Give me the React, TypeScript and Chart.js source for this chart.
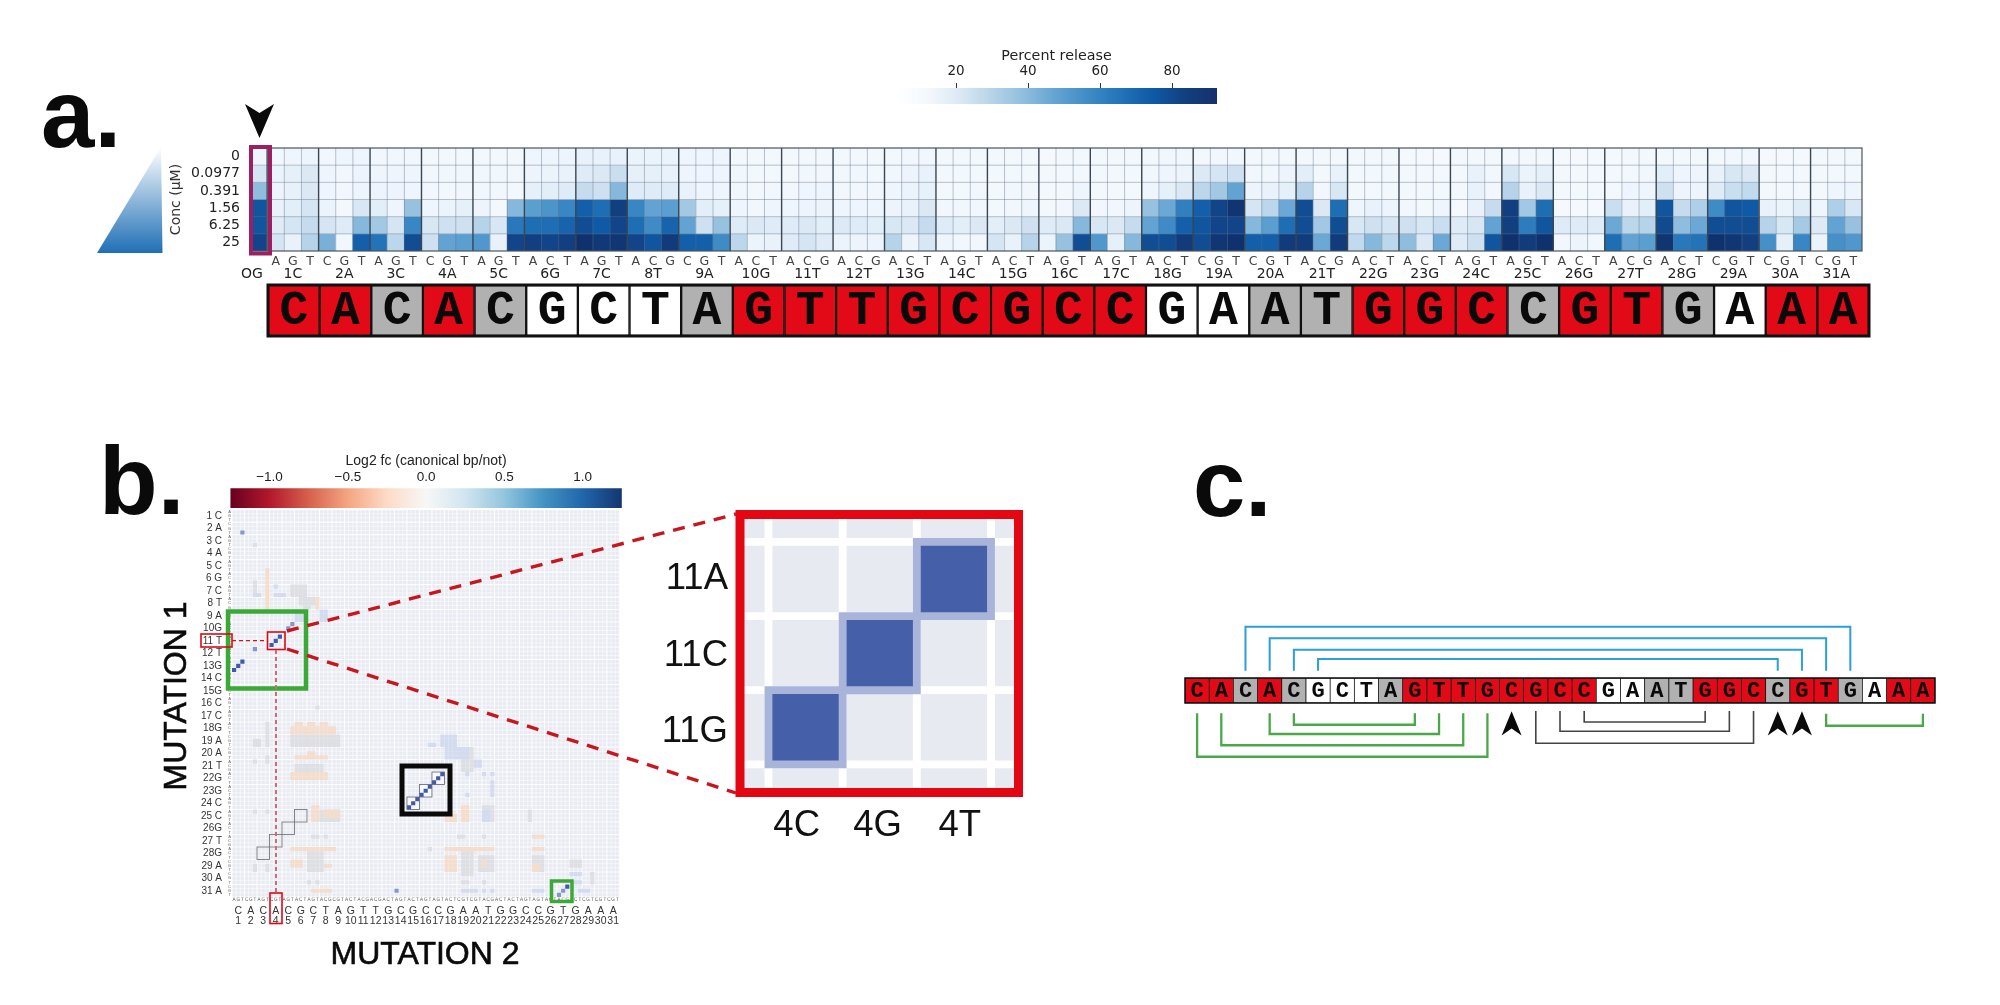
import React, { useEffect, useRef } from "react";
import { Chart, registerables } from "chart.js";
Chart.register(...registerables);

/* ---------- panel a data ---------- */
const concLabels = ["0", "0.0977", "0.391", "1.56", "6.25", "25"];
const sequence = "CACACGCTAGTTGCGCCGAATGGCCGTGAAA".split("");
const pairState = ["r","r","g","r","g","w","w","w","g","r","r","r","r","r","r","r","r","w","w","g","g","r","r","r","g","r","r","g","w","r","r"];
const groupNames = ["1C","2A","3C","4A","5C","6G","7C","8T","9A","10G","11T","12T","13G","14C","15G","16C","17C","18G","19A","20A","21T","22G","23G","24C","25C","26G","27T","28G","29A","30A","31A"];
const groupLetters = ["AGT","CGT","AGT","CGT","AGT","ACT","AGT","ACG","CGT","ACT","ACG","ACG","ACT","AGT","ACT","AGT","AGT","ACT","CGT","CGT","ACG","ACT","ACT","AGT","AGT","ACT","ACG","ACT","CGT","CGT","CGT"];
const release0 = [5, 4,5,6, 4,5,5, 4,4,4, 3,3,3, 3,3,3, 5,5,6, 8,8,8, 7,7,7, 5,5,5, 3,3,3, 3,3,3, 3,3,3, 3,4,4, 3,3,3, 3,3,3, 2,3,3, 3,3,3, 3,4,4, 3,4,4, 3,3,3, 3,3,3, 3,3,3, 2,2,2, 3,3,3, 3,3,3, 2,2,2, 2,3,3, 3,3,3, 3,4,4, 2,2,2, 3,3,3];
const release1 = [20, 7,10,16, 5,4,6, 5,5,5, 4,4,4, 4,4,4, 6,7,8, 14,16,24, 10,10,8, 5,5,5, 4,3,3, 3,4,4, 4,4,3, 4,6,8, 3,3,3, 3,3,3, 3,3,3, 3,3,3, 4,5,6, 15,20,22, 4,4,6, 12,3,8, 3,3,3, 3,3,3, 3,8,4, 18,7,10, 3,3,3, 3,3,4, 12,5,5, 8,18,16, 3,3,3, 3,3,3];
const release2 = [40, 6,9,16, 5,4,6, 6,6,5, 4,3,4, 4,4,3, 10,12,14, 25,22,42, 14,14,14, 8,5,5, 4,3,4, 4,5,5, 4,4,4, 5,7,9, 3,3,4, 3,4,4, 3,3,5, 3,3,3, 5,10,16, 28,35,50, 6,8,10, 30,4,18, 3,3,3, 3,3,3, 3,8,4, 30,8,16, 3,3,3, 3,5,5, 22,6,6, 14,24,26, 3,3,3, 3,5,5];
const release3 = [82, 8,12,20, 7,3,18, 12,5,38, 5,7,10, 6,3,42, 52,56,62, 78,72,90, 62,50,52, 35,12,10, 5,4,5, 5,6,6, 5,5,5, 6,8,16, 4,4,4, 3,4,5, 3,4,16, 4,4,6, 38,48,65, 78,88,95, 20,28,48, 85,16,72, 5,8,6, 4,3,5, 2,8,25, 90,35,72, 2,2,2, 24,8,12, 82,25,32, 60,82,80, 8,7,14, 5,32,18];
const release4 = [82, 14,20,25, 20,14,42, 35,20,62, 18,22,22, 30,18,68, 72,72,76, 85,80,88, 72,60,76, 50,22,38, 14,16,14, 14,16,12, 15,14,12, 18,16,25, 14,12,16, 12,16,22, 14,16,42, 18,16,25, 50,60,78, 82,88,88, 42,52,72, 85,35,85, 18,22,20, 22,18,24, 14,18,50, 90,66,82, 14,14,14, 48,28,30, 86,40,48, 85,85,85, 30,18,34, 15,50,38];
const release5 = [88, 20,8,30, 45,4,78, 70,28,85, 22,50,52, 55,8,88, 90,88,90, 96,93,94, 88,82,92, 78,78,60, 28,7,8, 14,20,14, 7,6,6, 30,6,18, 5,4,4, 20,8,30, 7,38,85, 55,10,42, 85,85,92, 85,94,96, 78,78,92, 92,48,92, 26,42,28, 40,16,48, 14,22,82, 96,92,96, 4,6,4, 72,50,52, 95,68,70, 96,94,90, 58,10,62, 7,58,55];
const releaseRows = [release0, release1, release2, release3, release4, release5];
const percentTicks = [20, 40, 60, 80];
const percentRange = [3.3, 92.5];

/* ---------- panel b data: [rowFrom, rowTo, colFrom, colTo] ---------- */
const positionLabels = ["1 C","2 A","3 C","4 A","5 C","6 G","7 C","8 T","9 A","10G","11 T","12 T","13G","14 C","15G","16 C","17 C","18G","19 A","20 A","21 T","22G","23G","24 C","25 C","26G","27 T","28G","29 A","30 A","31 A"];
const positionNumbers = sequence.map((_, i) => String(i + 1));
const log2Ticks = [-1, -0.5, 0, 0.5, 1];
const log2Range = [-1.25, 1.25];
const grayPatches = [[18,20,14,17],[21,22,16,19],[23,23,17,18],[17,19,5,5],[8,8,5,5],[54,56,14,25],[51,56,8,8],[55,56,5,6],[61,62,15,21],[59,60,8,8],[60,60,5,5],[57,62,55,57],[72,74,21,25],[71,74,60,62],[72,74,71,71],[72,72,5,5],[72,72,8,8],[82,86,18,21],[81,87,55,57],[83,86,59,62],[83,86,72,74],[85,86,5,5],[85,86,8,8],[84,85,81,83],[87,88,86,86],[89,89,86,86],[89,89,55,56],[89,89,60,60],[89,89,18,18],[89,89,20,20],[78,78,19,20],[78,78,22,22],[78,78,54,55],[78,78,60,60],[47,47,20,20],[81,81,47,47]];
const orangePatches = [[14,23,8,8],[21,23,20,20],[51,51,15,16],[51,51,18,19],[51,51,21,22],[52,53,14,24],[59,59,15,22],[58,58,18,19],[63,64,14,22],[71,74,19,20],[71,74,55,56],[73,74,51,53],[72,73,22,25],[81,81,14,24],[84,85,14,16],[85,85,22,23],[81,81,51,62],[83,86,51,53],[84,85,60,60],[81,81,72,74],[85,86,72,73],[78,78,72,74],[91,91,19,23]];
const paleBluePatches = [[20,20,5,6],[18,18,10,10],[20,20,10,12],[24,26,15,17],[24,26,21,22],[54,56,50,53],[56,56,47,48],[57,59,51,56],[60,61,58,59],[63,63,60,60],[63,63,62,62],[65,68,62,62],[63,63,56,56],[68,68,56,56],[72,74,60,61],[87,87,81,83],[89,89,82,83],[91,91,83,85],[91,91,72,74],[91,91,55,58],[91,91,60,60],[91,91,62,62]];
const mediumCells = [[5,2],[33,5],[27,14],[28,13],[91,39],[91,79],[92,78]];
const strongCells = [[30,11],[31,10],[32,9],[36,2],[37,1],[38,0],[71,42],[70,43],[69,44],[68,45],[67,46],[66,47],[65,48],[64,49],[63,50],[90,80]];
const darkOutlineBoxes = [[42,69],[45,66],[48,63]];
const grayOutlineBoxes = [[6,81],[9,78],[12,75],[15,72]];

/* ---------- inset data ---------- */
const insetRows = ["11A", "11C", "11G"];
const insetCols = ["4C", "4G", "4T"];
const insetRowTicks = [0, 0.035, 0.07].map((d, i) => i + d);
const insetColTicks = [-0.12, -0.03, 0.08].map((d, i) => i + d);
const insetStrong = [[0,2],[1,1],[2,0]];
const insetFringe = [-1, 0, 1, 2, 3];

/* ---------- panel c data: [leftIndex, rightIndex, level] ---------- */
const bluePairs = [[2,27,3.05],[3,26,2.59],[4,25,2.13],[5,24,1.76]];
const greenPairs = [[4,9,-0.87],[3,10,-1.24],[1,11,-1.69],[0,12,-2.15],[26,30,-0.91]];
const blackPairs = [[16,21,-0.76],[15,22,-1.13],[14,23,-1.61]];
const arrowPositions = [13, 24, 25];

/* ---------- styles ---------- */
const blueStopValues = [0, 8, 20, 30, 40, 50, 60, 70, 80, 90, 100];
const blueStopColors = ["#f9fbfe","#e9f2fa","#d5e5f3","#b6d3e9","#8fbddd","#62a3d3","#3e8bc6","#2273b8","#0f5aa6","#123f80","#0d2a62"];
const barStops = ["#ffffff","#f3f8fc","#dbe8f4","#b6d3e9","#8fbddd","#62a3d3","#3e8bc6","#2273b8","#0f5aa6","#123f80","#16306c"];
const rdbuColors = ["#67001f","#b2182b","#d6604d","#f4a582","#fddbc7","#f7f7f7","#d1e5f0","#92c5de","#4393c3","#2166ac","#14366f"];
const stateColors: any = { r: "#e30a17", g: "#b1b1b1", w: "#ffffff" };
const SANS = "'Liberation Sans', Arial, sans-serif";
const DEJA = "'DejaVu Sans', sans-serif";
const MONO = "'Liberation Mono', monospace";

const hex = (h: string) => [1, 3, 5].map((i) => parseInt(h.slice(i, i + 2), 16));
function blueAt(v: number) {
  let i = 0;
  while (i < blueStopValues.length - 2 && v > blueStopValues[i + 1]) i++;
  const t = Math.min(1, (v - blueStopValues[i]) / (blueStopValues[i + 1] - blueStopValues[i]));
  const a = hex(blueStopColors[i]), b = hex(blueStopColors[i + 1]);
  return `rgb(${a.map((c, k) => Math.round(c + (b[k] - c) * t)).join(",")})`;
}

const base = (extra: any = {}) => ({
  responsive: false,
  animation: false,
  devicePixelRatio: 1,
  events: [],
  ...extra,
  layout: { autoPadding: false, ...(extra.layout || {}) },
  plugins: { legend: { display: false }, tooltip: { enabled: false }, ...(extra.plugins || {}) },
});
const noGrid = { display: false, drawTicks: false };
const noBorder = { display: false };
const fixH = (h: number) => (s: any) => { s.height = h; s.paddingLeft = 0; s.paddingRight = 0; s.paddingTop = 0; s.paddingBottom = 0; };
const fixW = (w: number) => (s: any) => { s.width = w; s.paddingLeft = 0; s.paddingRight = 0; s.paddingTop = 0; s.paddingBottom = 0; };

/* ---------- heatmap a ---------- */
function heatmapA() {
  const xLetters = [""].concat(...groupLetters.map((g) => g.split("")));
  const xGroups = ["OG   "].concat(...groupNames.map((g) => ["", g, ""]));
  return {
    type: "bar",
    data: {
      labels: xLetters,
      datasets: releaseRows.map((row, r) => ({
        data: row.map(() => [r, r + 1]),
        backgroundColor: row.map(blueAt),
        borderWidth: 0,
        grouped: false,
        categoryPercentage: 1,
        barPercentage: 1,
      })),
    },
    options: base({
      layout: { padding: { top: 8, right: 10 } },
      scales: {
        x: { type: "category", labels: xLetters, offset: true, grid: noGrid, border: noBorder, weight: 0, afterFit: fixH(15),
          ticks: { autoSkip: false, maxRotation: 0, minRotation: 0, padding: 3, color: "#444", font: { family: DEJA, size: 12.5 } } },
        xGroup: { type: "category", axis: "x", position: "bottom", labels: xGroups, offset: true, grid: noGrid, border: noBorder, weight: 1, afterFit: fixH(24),
          ticks: { autoSkip: false, maxRotation: 0, minRotation: 0, padding: 0, color: "#222", font: { family: DEJA, size: 14 } } },
        y: { type: "linear", min: 0, max: 6, reverse: true, display: false },
        rowAxis: { type: "category", axis: "y", position: "left", labels: concLabels, offset: true, grid: noGrid, border: noBorder, afterFit: fixW(100),
          title: { display: true, text: "Conc (μM)", color: "#333", padding: { top: 18, bottom: 0 }, font: { family: DEJA, size: 14 } },
          ticks: { autoSkip: false, padding: 10, color: "#222", font: { family: DEJA, size: 14 } } },
      },
    }),
    plugins: [{
      id: "gridA",
      afterDatasetsDraw(chart: any) {
        const { ctx, chartArea: a } = chart;
        const cw = (a.right - a.left) / 94, ch = (a.bottom - a.top) / 6;
        ctx.save();
        ctx.lineWidth = 1;
        ctx.strokeStyle = "rgba(95,115,135,0.42)";
        for (let c = 1; c < 94; c++) {
          if ((c - 1) % 3 === 0) continue;
          ctx.beginPath(); ctx.moveTo(a.left + c * cw, a.top); ctx.lineTo(a.left + c * cw, a.bottom); ctx.stroke();
        }
        for (let r = 1; r < 6; r++) {
          ctx.beginPath(); ctx.moveTo(a.left, a.top + r * ch); ctx.lineTo(a.right, a.top + r * ch); ctx.stroke();
        }
        ctx.strokeStyle = "#3b4652";
        ctx.lineWidth = 1.4;
        for (let c = 1; c < 94; c += 3) {
          ctx.beginPath(); ctx.moveTo(a.left + c * cw, a.top); ctx.lineTo(a.left + c * cw, a.bottom); ctx.stroke();
        }
        ctx.strokeStyle = "#4a5560";
        ctx.lineWidth = 1.2;
        ctx.strokeRect(a.left, a.top, a.right - a.left, a.bottom - a.top);
        ctx.restore();
      },
    }],
  };
}

/* ---------- colour bars ---------- */
function colorBar(range: number[], ticks: number[], colors: string[], title: string, fmt: (v: number) => string, family: string, fontSize: number, titleSize: number, axisH: number, pad: any, tickLen: number) {
  return {
    type: "bar",
    data: {
      labels: ["scale"],
      datasets: [{
        data: [range],
        borderWidth: 0,
        categoryPercentage: 1,
        barPercentage: 1,
        backgroundColor: (c: any) => {
          const area = c.chart.chartArea;
          if (!area) return colors[0];
          const g = c.chart.ctx.createLinearGradient(area.left, 0, area.right, 0);
          colors.forEach((col, i) => g.addColorStop(i / (colors.length - 1), col));
          return g;
        },
      }],
    },
    options: base({
      indexAxis: "y",
      layout: { padding: pad },
      scales: {
        y: { type: "category", display: false },
        x: { type: "linear", position: "top", min: range[0], max: range[1], border: noBorder, afterFit: fixH(axisH),
          afterBuildTicks: (s: any) => { s.ticks = ticks.map((value) => ({ value })); },
          grid: { drawOnChartArea: false, drawTicks: tickLen > 0, tickLength: tickLen, color: "#333" },
          title: { display: true, text: title, color: "#222", padding: { top: 0, bottom: 2 }, font: { family, size: titleSize } },
          ticks: { padding: 3, maxRotation: 0, color: "#222", font: { family, size: fontSize }, callback: (v: number) => fmt(v) } },
      },
    }),
  };
}

/* ---------- strip of bases and panel c ---------- */
function strip(fontSize: number, border: number, frame: number, yRange: number[], pad: any, extra: any[], arrows: number[]) {
  return {
    type: "bar",
    data: {
      datasets: [{
        type: "bar",
        data: sequence.map((_, i) => ({ x: i, y: [0, 1] })),
        backgroundColor: pairState.map((s) => stateColors[s]),
        borderColor: "#111",
        borderWidth: border,
        borderSkipped: false,
        categoryPercentage: 1,
        barPercentage: 1,
        clip: false,
      }, ...extra],
    },
    options: base({
      layout: { padding: pad },
      scales: {
        x: { type: "linear", min: -0.5, max: 30.5, offset: false, display: false },
        y: { type: "linear", min: yRange[0], max: yRange[1], display: false },
      },
    }),
    plugins: [{
      id: "letters",
      afterDatasetsDraw(chart: any) {
        const { ctx } = chart;
        const bars = chart.getDatasetMeta(0).data;
        ctx.save();
        ctx.font = `bold ${fontSize}px ${MONO}`;
        ctx.textAlign = "center";
        ctx.textBaseline = "middle";
        ctx.fillStyle = "#0a0a0a";
        bars.forEach((b: any, i: number) => ctx.fillText(sequence[i], b.x, (b.y + b.base) / 2 + 1));
        if (frame > 0) {
          const l = bars[0].x - bars[0].width / 2, r = bars[30].x + bars[30].width / 2;
          ctx.strokeStyle = "#111";
          ctx.lineWidth = frame;
          ctx.strokeRect(l, bars[0].y, r - l, bars[0].base - bars[0].y);
        }
        const xs = chart.scales.x, ys = chart.scales.y;
        arrows.forEach((p) => {
          const x = xs.getPixelForValue(p), top = ys.getPixelForValue(-0.33), bot = ys.getPixelForValue(-1.3), notch = ys.getPixelForValue(-1.02);
          ctx.fillStyle = "#0a0a0a";
          ctx.beginPath();
          ctx.moveTo(x, top); ctx.lineTo(x + 10, bot); ctx.lineTo(x, notch); ctx.lineTo(x - 10, bot); ctx.closePath(); ctx.fill();
        });
        ctx.restore();
      },
    }],
  };
}

function bracket(pair: number[], start: number, color: string, width: number) {
  return {
    type: "line",
    data: [{ x: pair[0], y: start }, { x: pair[0], y: pair[2] }, { x: pair[1], y: pair[2] }, { x: pair[1], y: start }],
    borderColor: color,
    borderWidth: width,
    pointRadius: 0,
    fill: false,
    tension: 0,
    clip: false,
  };
}

/* ---------- heatmap b ---------- */
const expand = (patches: number[][]) => {
  const out: any[] = [];
  patches.forEach(([r0, r1, c0, c1]) => {
    for (let r = r0; r <= r1; r++) for (let c = c0; c <= c1; c++) out.push({ x: c, y: r });
  });
  return out;
};
const cellSet = (data: any[], color: string, radius: number) => ({
  data, backgroundColor: color, borderWidth: 0, pointRadius: radius, pointStyle: "rect", pointHoverRadius: radius,
});
function heatmapB() {
  const tiny = [].concat(...groupLetters.map((g) => g.split("") as any)) as string[];
  const r = 2.95;
  return {
    type: "scatter",
    data: {
      datasets: [
        cellSet(strongCells.map(([y, x]) => ({ x, y })), "#3f5aa8", r),
        cellSet(mediumCells.map(([y, x]) => ({ x, y })), "#8497cc", r),
        cellSet(expand(orangePatches), "#f4ddcd", r),
        cellSet(expand(paleBluePatches), "#d3dbef", r),
        cellSet(expand(grayPatches), "#dedfe3", r),
      ],
    },
    options: base({
      layout: { padding: { top: 9.6, right: 10.6 } },
      scales: {
        x: { type: "linear", min: -0.5, max: 92.5, display: false },
        y: { type: "linear", min: -0.5, max: 92.5, reverse: true, display: false },
        yTiny: { type: "category", axis: "y", position: "left", labels: tiny, offset: true, grid: noGrid, border: noBorder, weight: 0, afterFit: fixW(6),
          ticks: { autoSkip: false, padding: 1, color: "#666", font: { family: SANS, size: 4.2 } } },
        yPos: { type: "category", axis: "y", position: "left", labels: positionLabels, offset: true, grid: noGrid, border: noBorder, weight: 1, afterFit: fixW(36),
          ticks: { autoSkip: false, padding: 4, color: "#333", font: { family: SANS, size: 10 } } },
        xTiny: { type: "category", axis: "x", position: "bottom", labels: tiny, offset: true, grid: noGrid, border: noBorder, weight: 0, afterFit: fixH(8),
          ticks: { autoSkip: false, maxRotation: 0, minRotation: 0, padding: 0, color: "#555", font: { family: SANS, size: 4.6 } } },
        xBase: { type: "category", axis: "x", position: "bottom", labels: sequence, offset: true, grid: noGrid, border: noBorder, weight: 1, afterFit: fixH(10),
          ticks: { autoSkip: false, maxRotation: 0, minRotation: 0, padding: 0, color: "#333", font: { family: SANS, size: 10.5 } } },
        xNum: { type: "category", axis: "x", position: "bottom", labels: positionNumbers, offset: true, grid: noGrid, border: noBorder, weight: 2, afterFit: fixH(25),
          ticks: { autoSkip: false, maxRotation: 0, minRotation: 0, padding: 0, color: "#333", font: { family: SANS, size: 10.5 } } },
      },
    }),
    plugins: [{
      id: "baseB",
      beforeDatasetsDraw(chart: any) {
        const { ctx, chartArea: a, scales } = chart;
        const cell = (a.right - a.left) / 93, cellH = (a.bottom - a.top) / 93;
        ctx.save();
        ctx.fillStyle = "#e9ebf3";
        ctx.fillRect(a.left, a.top, a.right - a.left, a.bottom - a.top);
        for (let i = 0; i <= 93; i++) {
          ctx.strokeStyle = "rgba(255,255,255,0.9)";
          ctx.lineWidth = i % 3 === 0 ? 1.1 : 0.6;
          ctx.beginPath(); ctx.moveTo(a.left + i * cell, a.top); ctx.lineTo(a.left + i * cell, a.bottom); ctx.stroke();
          ctx.beginPath(); ctx.moveTo(a.left, a.top + i * cellH); ctx.lineTo(a.right, a.top + i * cellH); ctx.stroke();
        }
        darkOutlineBoxes.forEach(([c, r]) => {
          const x0 = scales.x.getPixelForValue(c - 0.5), x1 = scales.x.getPixelForValue(c + 2.5);
          const y0 = scales.y.getPixelForValue(r - 0.5), y1 = scales.y.getPixelForValue(r + 2.5);
          ctx.fillStyle = "rgba(255,255,255,0.6)";
          ctx.fillRect(x0, y0, x1 - x0, y1 - y0);
        });
        ctx.restore();
      },
      afterDatasetsDraw(chart: any) {
        const { ctx, scales } = chart;
        const box = (col: number, row: number, color: string) => {
          const x0 = scales.x.getPixelForValue(col - 0.5), x1 = scales.x.getPixelForValue(col + 2.5);
          const y0 = scales.y.getPixelForValue(row - 0.5), y1 = scales.y.getPixelForValue(row + 2.5);
          ctx.strokeStyle = color;
          ctx.lineWidth = 0.9;
          ctx.strokeRect(x0, y0, x1 - x0, y1 - y0);
        };
        ctx.save();
        darkOutlineBoxes.forEach(([c, r]) => box(c, r, "#6a6f82"));
        grayOutlineBoxes.forEach(([c, r]) => box(c, r, "#777"));
        ctx.restore();
      },
    }],
  };
}

/* ---------- inset ---------- */
function inset() {
  const fringe: any[] = [];
  insetFringe.forEach((y) => insetFringe.forEach((x) => fringe.push({ x, y })));
  const strong = insetStrong.map(([y, x]) => ({ x, y }));
  const cellRadius = 66.3 / Math.SQRT2;
  const haloRadius = 82 / Math.SQRT2;
  return {
    type: "scatter",
    data: {
      datasets: [
        cellSet(strong, "#465fa9", cellRadius),
        cellSet(strong, "#a9b4da", haloRadius),
        cellSet(fringe, "#e8eaf2", cellRadius),
      ],
    },
    options: base({
      layout: { padding: { top: 19, right: 36 } },
      scales: {
        x: { type: "linear", min: -0.83, max: 2.81, grid: noGrid, border: noBorder, afterFit: fixH(62),
          afterBuildTicks: (t: any) => { t.ticks = insetColTicks.map((value) => ({ value })); },
          ticks: { padding: 16, maxRotation: 0, color: "#111", font: { family: SANS, size: 36.5 }, callback: (_: number, i: number) => insetCols[i] } },
        y: { type: "linear", min: -0.81, max: 2.82, reverse: true, grid: noGrid, border: noBorder, afterFit: fixW(94),
          afterBuildTicks: (t: any) => { t.ticks = insetRowTicks.map((value) => ({ value })); },
          ticks: { padding: 16, color: "#111", font: { family: SANS, size: 36.5 }, callback: (_: number, i: number) => insetRows[i] } },
      },
    }),
    plugins: [{
      id: "insetFrame",
      afterDatasetsDraw(chart: any) {
        const { ctx, chartArea: a } = chart;
        ctx.save();
        ctx.strokeStyle = "#e30613";
        ctx.lineWidth = 9;
        ctx.strokeRect(a.left - 4, a.top - 4.5, a.right - a.left + 8.5, a.bottom - a.top + 9);
        ctx.restore();
      },
    }],
  };
}

/* ---------- page annotations ---------- */
function annotations() {
  return {
    type: "scatter",
    data: { datasets: [] },
    options: base({ scales: { x: { display: false }, y: { display: false } } }),
    plugins: [{
      id: "notes",
      afterDraw(chart: any) {
        const ctx = chart.ctx;
        ctx.save();
        const text = (t: string, x: number, y: number, font: string, align = "left", rot = 0, weight = 0) => {
          ctx.save();
          ctx.translate(x, y);
          ctx.rotate(rot);
          ctx.font = font;
          ctx.textAlign = align;
          ctx.fillStyle = "#0a0a0a";
          ctx.textBaseline = "alphabetic";
          ctx.fillText(t, 0, 0);
          if (weight > 0) { ctx.strokeStyle = "#0a0a0a"; ctx.lineWidth = weight; ctx.strokeText(t, 0, 0); }
          ctx.restore();
        };
        text("a.", 41, 147, `bold 96px ${SANS}`);
        text("b.", 99, 514, `bold 96px ${SANS}`);
        text("c.", 1193, 516, `bold 94px ${SANS}`);
        text("MUTATION 1", 186, 696, `32px ${SANS}`, "center", -Math.PI / 2, 0.6);
        text("MUTATION 2", 425, 964, `32px ${SANS}`, "center", 0, 0.6);

        const g = ctx.createLinearGradient(0, 147, 0, 253);
        g.addColorStop(0, "#ffffff");
        g.addColorStop(1, "#1f6fb5");
        ctx.fillStyle = g;
        ctx.beginPath(); ctx.moveTo(161, 147); ctx.lineTo(97, 253); ctx.lineTo(162.5, 253); ctx.closePath(); ctx.fill();

        ctx.fillStyle = "#0a0a0a";
        ctx.beginPath(); ctx.moveTo(245, 104); ctx.lineTo(259.5, 113); ctx.lineTo(274, 104); ctx.lineTo(259.5, 138); ctx.closePath(); ctx.fill();

        ctx.strokeStyle = "#9b1f63";
        ctx.lineWidth = 4;
        ctx.strokeRect(251, 147, 19, 106.5);

        const rect = (x0: number, y0: number, x1: number, y1: number, color: string, w: number) => {
          ctx.strokeStyle = color; ctx.lineWidth = w; ctx.setLineDash([]);
          ctx.strokeRect(x0, y0, x1 - x0, y1 - y0);
        };
        const dash = (x0: number, y0: number, x1: number, y1: number, w: number, d: number[], color = "#c8161e") => {
          ctx.strokeStyle = color; ctx.lineWidth = w; ctx.setLineDash(d);
          ctx.beginPath(); ctx.moveTo(x0, y0); ctx.lineTo(x1, y1); ctx.stroke();
          ctx.setLineDash([]);
        };
        rect(228, 611.5, 306, 688.5, "#3aa935", 4.5);
        rect(402, 766, 450, 814, "#0a0a0a", 5);
        rect(551.5, 881, 572, 901.5, "#3aa935", 3.5);
        rect(267.5, 632, 285, 649.5, "#e30613", 1.6);
        rect(201, 634, 232, 647, "#e30613", 1.6);
        rect(270, 893, 282, 923.5, "#e30613", 1.6);
        dash(232, 640.7, 267, 640.7, 1.2, [4, 3]);
        dash(276, 650, 276, 893, 2, [4, 3], "#cf6a78");
        dash(287, 631, 736, 514, 3.4, [12, 9]);
        dash(287, 649, 736, 793, 3.4, [12, 9]);
        ctx.restore();
      },
    }],
  };
}

/* ---------- components ---------- */
function Panel({ x, y, w, h, make }: any) {
  const ref = useRef<HTMLCanvasElement>(null);
  useEffect(() => {
    const chart = new Chart(ref.current as any, make());
    return () => chart.destroy();
  }, []);
  return (
    <div style={{ position: "absolute", left: x, top: y, width: w, height: h }}>
      <canvas ref={ref} width={w} height={h} />
    </div>
  );
}

export default function App() {
  const fmtLog = (v: number) => (v < 0 ? "\u2212" : "") + Math.abs(v).toFixed(1);
  return (
    <div style={{ position: "absolute", left: 0, top: 0, width: 2000, height: 1005, overflow: "hidden", background: "#fff" }}>
      <Panel x={150} y={140} w={1722} h={150} make={heatmapA} />
      <Panel x={880} y={48} w={350} h={62} make={() => colorBar(percentRange, percentTicks, barStops, "Percent release", (v) => String(v), DEJA, 13.5, 14.3, 40, { left: 16, right: 13, bottom: 6 }, 5)} />
      <Panel x={262} y={280} w={1613} h={61} make={() => strip(48, 1.5, 3, [0, 1], { left: 6, right: 6, top: 5, bottom: 5 }, [], [])} />
      <Panel x={215} y={453} w={420} h={62} make={() => colorBar(log2Range, log2Ticks, rdbuColors, "Log2 fc (canonical bp/not)", fmtLog, SANS, 13.5, 14, 35.3, { left: 15.4, right: 13.2, bottom: 7 }, 0)} />
      <Panel x={190} y={500} w={440} h={440} make={heatmapB} />
      <Panel x={650} y={500} w={400} h={350} make={inset} />
      <Panel x={1180} y={618} w={760} h={160} make={() => strip(22, 0.75, 1.5, [-3, 3.4], { left: 5, right: 5 }, [
        ...bluePairs.map((p) => bracket(p, 1.29, "#2aa0d6", 2)),
        ...greenPairs.map((p) => bracket(p, p[0] === 26 ? -0.43 : -0.41, "#4aa84a", 2.3)),
        ...blackPairs.map((p) => bracket(p, -0.32, "#444444", 1.6)),
      ], arrowPositions)} />
      <div style={{ position: "absolute", left: 0, top: 0, width: 2000, height: 1005, pointerEvents: "none" }}>
        <Panel x={0} y={0} w={2000} h={1005} make={annotations} />
      </div>
    </div>
  );
}
